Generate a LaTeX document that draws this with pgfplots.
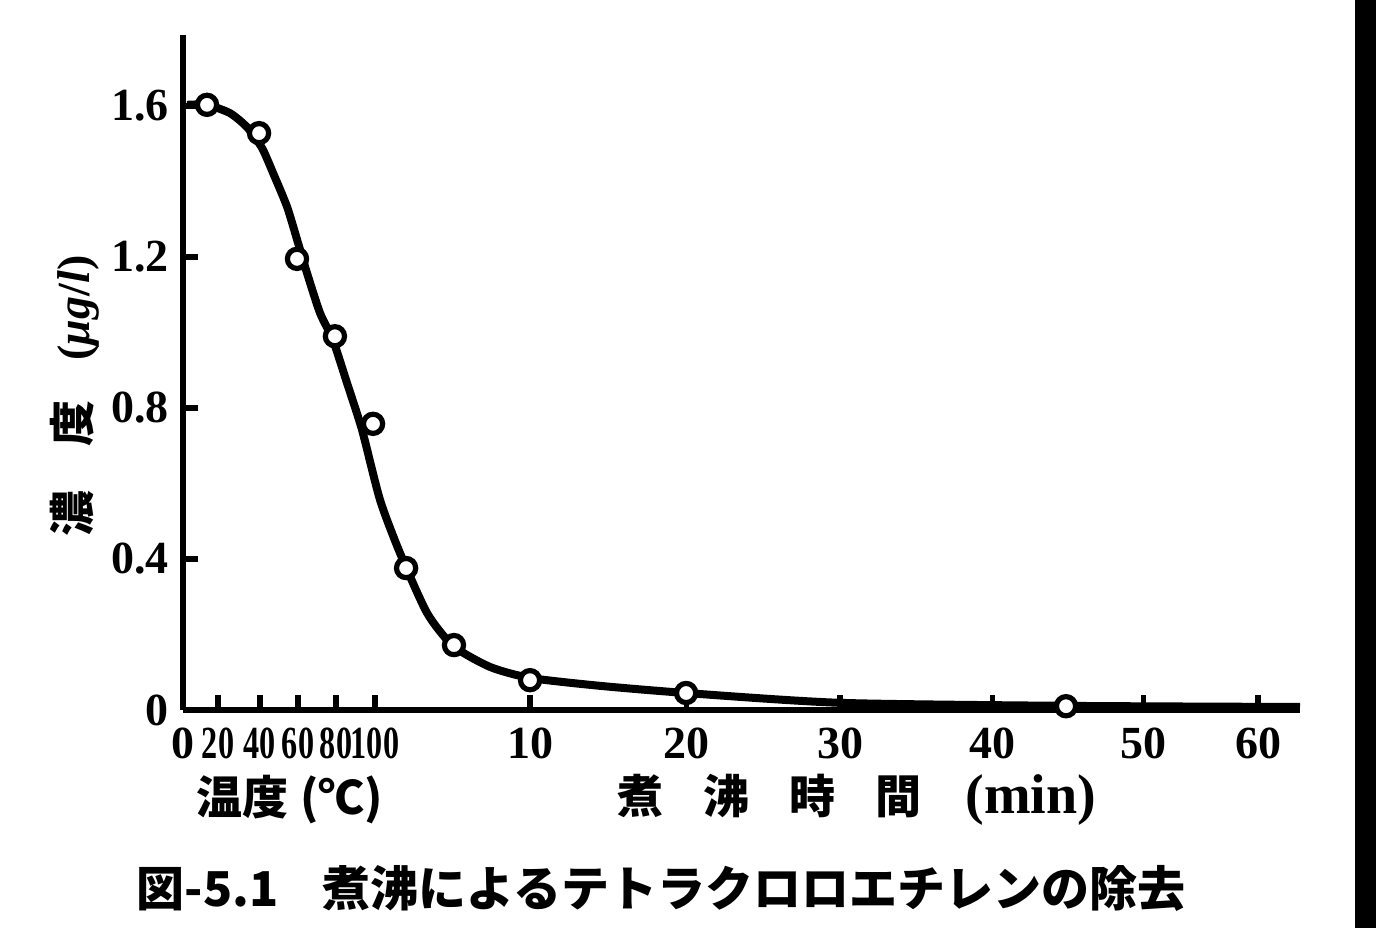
\documentclass[border=0pt]{standalone}
\usepackage{pgfplots}
\pgfplotsset{compat=1.18}
\usepackage{graphicx}
\usepackage{fontspec}
\setmainfont{Liberation Serif}
\newfontfamily\cjk{Noto Sans CJK JP}
\begin{document}
\begin{tikzpicture}
\path[use as bounding box] (-45.75pt,-54.5pt) rectangle (298.25pt,177.5pt);
\fill[black] (293pt,-54.5pt) rectangle (298.25pt,177.5pt);
\begin{axis}[
  at={(0pt,0pt)}, anchor=south west,
  scale only axis, width=279.25pt, height=168.75pt,
  xmin=0, xmax=73, ymin=0, ymax=1.788,
  axis x line=bottom, axis y line=left,
  axis line style={-, line width=1.5pt},
  tick align=inside, major tick length=3.8pt,
  tick style={line width=1.3pt, black},
  xtick={0,2.29,5.03,7.52,10.0,12.55,22.68,32.88,42.94,52.88,62.75,70.26},
  xticklabels={\textbf{0},\scalebox{0.7}[1]{\textbf{20}},\scalebox{0.7}[1]{\textbf{40}},\scalebox{0.7}[1]{\textbf{60}},\scalebox{0.7}[1]{\textbf{80}},\scalebox{0.7}[1]{\textbf{100}},\textbf{10},\textbf{20},\textbf{30},\textbf{40},\textbf{50},\textbf{60}},
  ytick={0,0.4,0.8,1.2,1.6},
  yticklabels={\textbf{0},\textbf{0.4},\textbf{0.8},\textbf{1.2},\textbf{1.6}},
  xticklabel style={font=\fontsize{11.5}{12}\selectfont\bfseries, yshift=-1pt},
  yticklabel style={font=\fontsize{11.5}{12}\selectfont\bfseries},
  clip=false,
]
% smooth curve (x: position scale, temperature then boiling time)
\addplot[line width=2pt, smooth, tension=0.4] coordinates {
  (0.26,1.603) (1.57,1.603) (3.07,1.581) (4.18,1.544) (5.16,1.489) (5.88,1.423)
  (6.80,1.333) (7.52,1.237) (8.10,1.158) (8.95,1.052) (9.80,0.980) (10.72,0.866)
  (11.70,0.742) (12.88,0.556) (14.18,0.416) (15.95,0.257) (17.65,0.170)
  (20.07,0.114) (22.68,0.085) (27.25,0.064) (32.88,0.045) (42.94,0.019)
  (57.71,0.011) (73,0.008)
};
% measured points
\addplot[only marks, mark=*, mark size=2.4pt,
  mark options={fill=white, draw=black, line width=1.3pt}] coordinates {
  (1.57,1.603) (4.97,1.528) (7.45,1.195) (9.93,0.990) (12.42,0.758)
  (14.58,0.376) (17.71,0.172) (22.68,0.079) (32.88,0.045) (57.71,0.010)
};
\end{axis}
\node[font=\fontsize{11.5}{12}\selectfont] at (26.75pt,-22.5pt) {\cjk\bfseries 温度\hspace{3pt}(℃)};
\node[font=\fontsize{11.5}{12}\selectfont] at (168.5pt,-22.5pt) {{\cjk\bfseries 煮\hspace{10pt}沸\hspace{10pt}時\hspace{10pt}間}\hspace{11pt}{\fontsize{14}{15}\selectfont\textbf{(min)}}};
\node[rotate=90, font=\fontsize{11.5}{12}\selectfont] at (-27pt,78.5pt) {{\cjk\bfseries 濃\hspace{11pt}度}\hspace{10pt}\textbf{(\textit{μg}/\textit{l})}};
\node[font=\fontsize{12}{13}\selectfont] at (119.5pt,-44.5pt) {\cjk\bfseries 図-5.1\hspace{11pt}煮沸によるテトラクロロエチレンの除去};
\end{tikzpicture}
\end{document}
